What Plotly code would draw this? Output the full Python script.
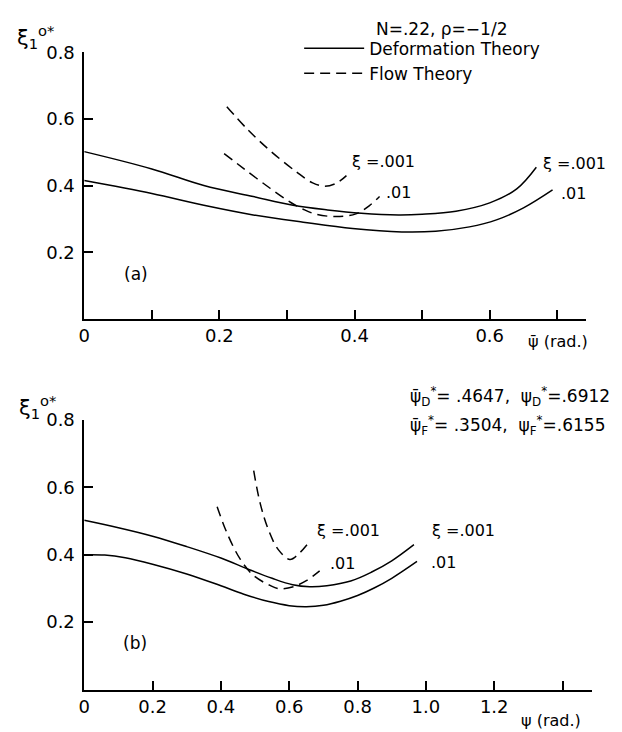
import plotly.graph_objects as go

# ---------------- data ----------------
# Panel (a): abscissa psi-bar (rad.)
a_psi_def_hi = [0, 0.1, 0.177, 0.25, 0.309, 0.36, 0.41, 0.465, 0.5, 0.55, 0.6, 0.64, 0.669]
a_def_hi = [0.502, 0.45, 0.40, 0.367, 0.341, 0.327, 0.317, 0.312, 0.314, 0.323, 0.348, 0.39, 0.455]
a_psi_def_lo = [0, 0.1, 0.177, 0.25, 0.324, 0.397, 0.47, 0.52, 0.57, 0.61, 0.65, 0.693]
a_def_lo = [0.415, 0.376, 0.341, 0.312, 0.29, 0.271, 0.261, 0.263, 0.276, 0.297, 0.333, 0.387]
a_psi_flow_hi = [0.211, 0.241, 0.275, 0.314, 0.338, 0.356, 0.373, 0.388]
a_flow_hi = [0.637, 0.570, 0.505, 0.441, 0.408, 0.398, 0.407, 0.43]
a_psi_flow_lo = [0.207, 0.236, 0.275, 0.305, 0.324, 0.343, 0.373, 0.402, 0.422, 0.437]
a_flow_lo = [0.496, 0.451, 0.392, 0.35, 0.329, 0.314, 0.307, 0.315, 0.34, 0.367]

# Panel (b): abscissa psi (rad.)
b_psi_def_hi = [0, 0.1, 0.2, 0.3, 0.4, 0.48, 0.55, 0.61, 0.66, 0.71, 0.78, 0.84, 0.9, 0.965]
b_def_hi = [0.502, 0.48, 0.455, 0.424, 0.39, 0.357, 0.33, 0.311, 0.305, 0.308, 0.322, 0.348, 0.382, 0.43]
b_psi_def_lo = [0, 0.06, 0.12, 0.2, 0.3, 0.4, 0.467, 0.54, 0.6, 0.65, 0.7, 0.75, 0.8, 0.85, 0.9, 0.974]
b_def_lo = [0.40, 0.399, 0.391, 0.372, 0.343, 0.308, 0.283, 0.261, 0.249, 0.246, 0.25, 0.262, 0.279, 0.302, 0.33, 0.38]
b_psi_flow_hi = [0.496, 0.515, 0.539, 0.568, 0.602, 0.631, 0.66]
b_flow_hi = [0.649, 0.552, 0.474, 0.415, 0.386, 0.406, 0.44]
b_psi_flow_lo = [0.389, 0.418, 0.457, 0.496, 0.544, 0.573, 0.612, 0.65, 0.689]
b_flow_lo = [0.542, 0.464, 0.386, 0.338, 0.309, 0.299, 0.305, 0.323, 0.352]

a_xticks = [0, 0.2, 0.4, 0.6]
a_xticktext = ["0", "0.2", "0.4", "0.6"]
a_xminor = [0.1, 0.3, 0.5, 0.7]
b_xticks = [0, 0.2, 0.4, 0.6, 0.8, 1.0, 1.2]
b_xticktext = ["0", "0.2", "0.4", "0.6", "0.8", "1.0", "1.2"]
b_xminor = [1.4]
y_ticks = [0.2, 0.4, 0.6, 0.8]
y_ticktext = ["0.2", "0.4", "0.6", "0.8"]

FONT = "DejaVu Sans"
INK = "black"
DASH = "10px,6px"

fig = go.Figure()

def add(x, y, xa, ya, dashed, name, show=False):
    fig.add_trace(go.Scatter(
        x=x, y=y, xaxis=xa, yaxis=ya, mode="lines",
        line=dict(color=INK, width=1.5, shape="spline", smoothing=1.0,
                  dash=DASH if dashed else "solid"),
        name=name, showlegend=show,
        legendgroup="flow" if dashed else "def", hoverinfo="skip"))

add(a_psi_def_hi, a_def_hi, "x", "y", False, "Deformation Theory", True)
add(a_psi_flow_hi, a_flow_hi, "x", "y", True, "Flow Theory", True)
add(a_psi_def_lo, a_def_lo, "x", "y", False, "Deformation Theory")
add(a_psi_flow_lo, a_flow_lo, "x", "y", True, "Flow Theory")
add(b_psi_def_hi, b_def_hi, "x2", "y2", False, "Deformation Theory")
add(b_psi_def_lo, b_def_lo, "x2", "y2", False, "Deformation Theory")
add(b_psi_flow_hi, b_flow_hi, "x2", "y2", True, "Flow Theory")
add(b_psi_flow_lo, b_flow_lo, "x2", "y2", True, "Flow Theory")

W, H = 622, 732
def px(v): return v / W
def py(v): return 1 - v / H

axis_common = dict(showline=True, linecolor=INK, linewidth=1.6, ticks="inside",
                   ticklen=9, tickwidth=1.5, tickcolor=INK, showgrid=False,
                   zeroline=False, tickfont=dict(family=FONT, size=18, color=INK),
                   mirror=False)
minor_common = dict(ticks="inside", ticklen=9, tickwidth=1.5, tickcolor=INK, showgrid=False)

fig.update_layout(
    width=W, height=H, margin=dict(l=0, r=0, t=0, b=0),
    paper_bgcolor="white", plot_bgcolor="white",
    font=dict(family=FONT, color=INK),
    xaxis=dict(domain=[px(79), px(586)], range=[0, 0.743], anchor="y",
               tickmode="array", tickvals=a_xticks, ticktext=a_xticktext,
               minor=dict(tickvals=a_xminor, **minor_common), **axis_common),
    yaxis=dict(domain=[py(312.5), py(42)], range=[0, 0.8], anchor="x",
               tickmode="array", tickvals=y_ticks, ticktext=y_ticktext,
               ticklabelstandoff=4, **axis_common),
    xaxis2=dict(domain=[px(79), px(592)], range=[0, 1.487], anchor="y2",
                tickmode="array", tickvals=b_xticks, ticktext=b_xticktext,
                minor=dict(tickvals=b_xminor, **minor_common), **axis_common),
    yaxis2=dict(domain=[py(689), py(415)], range=[0, 0.8], anchor="x2",
                tickmode="array", tickvals=y_ticks, ticktext=y_ticktext,
                ticklabelstandoff=4, **axis_common),
    legend=dict(x=px(296), y=py(20), xanchor="left", yanchor="top",
                bgcolor="rgba(0,0,0,0)", itemwidth=60, tracegroupgap=0,
                font=dict(family=FONT, size=17, color=INK)),
)

def note(text, x, y, xref="paper", yref="paper", size=17, xanchor="left"):
    fig.add_annotation(text=text, x=x, y=y, xref=xref, yref=yref, showarrow=False,
                       xanchor=xanchor, yanchor="middle",
                       font=dict(family=FONT, size=size, color=INK))

# axis titles
note("ξ<sub>1</sub><sup>o*</sup>", px(9), py(26), size=21)
note("ξ<sub>1</sub><sup>o*</sup>", px(11), py(402), size=21)
note("ψ̄ (rad.)", px(525), py(336), size=16)
note("ψ (rad.)", px(518), py(720), size=16)

# header
note("N=.22, ρ=−1/2", px(372), py(18), size=17)

# panel tags
note("(a)", px(117), py(267), size=17)
note("(b)", px(116), py(642), size=17)

# critical angles
note("ψ̄<sub>D</sub><sup>*</sup>= .4647,  ψ<sub>D</sub><sup>*</sup>=.6912", px(406), py(391), size=17)
note("ψ̄<sub>F</sub><sup>*</sup>= .3504,  ψ<sub>F</sub><sup>*</sup>=.6155", px(406), py(421), size=17)

# curve labels, panel (a)
note("ξ =.001", 0.394, 0.472, "x", "y", size=16)
note(".01", 0.444, 0.38, "x", "y", size=16)
note("ξ =.001", 0.676, 0.467, "x", "y", size=16)
note(".01", 0.702, 0.377, "x", "y", size=16)
# curve labels, panel (b)
note("ξ =.001", 0.675, 0.472, "x2", "y2", size=16)
note(".01", 0.713, 0.375, "x2", "y2", size=16)
note("ξ =.001", 1.012, 0.472, "x2", "y2", size=16)
note(".01", 1.009, 0.378, "x2", "y2", size=16)

fig.write_html("out.html")
